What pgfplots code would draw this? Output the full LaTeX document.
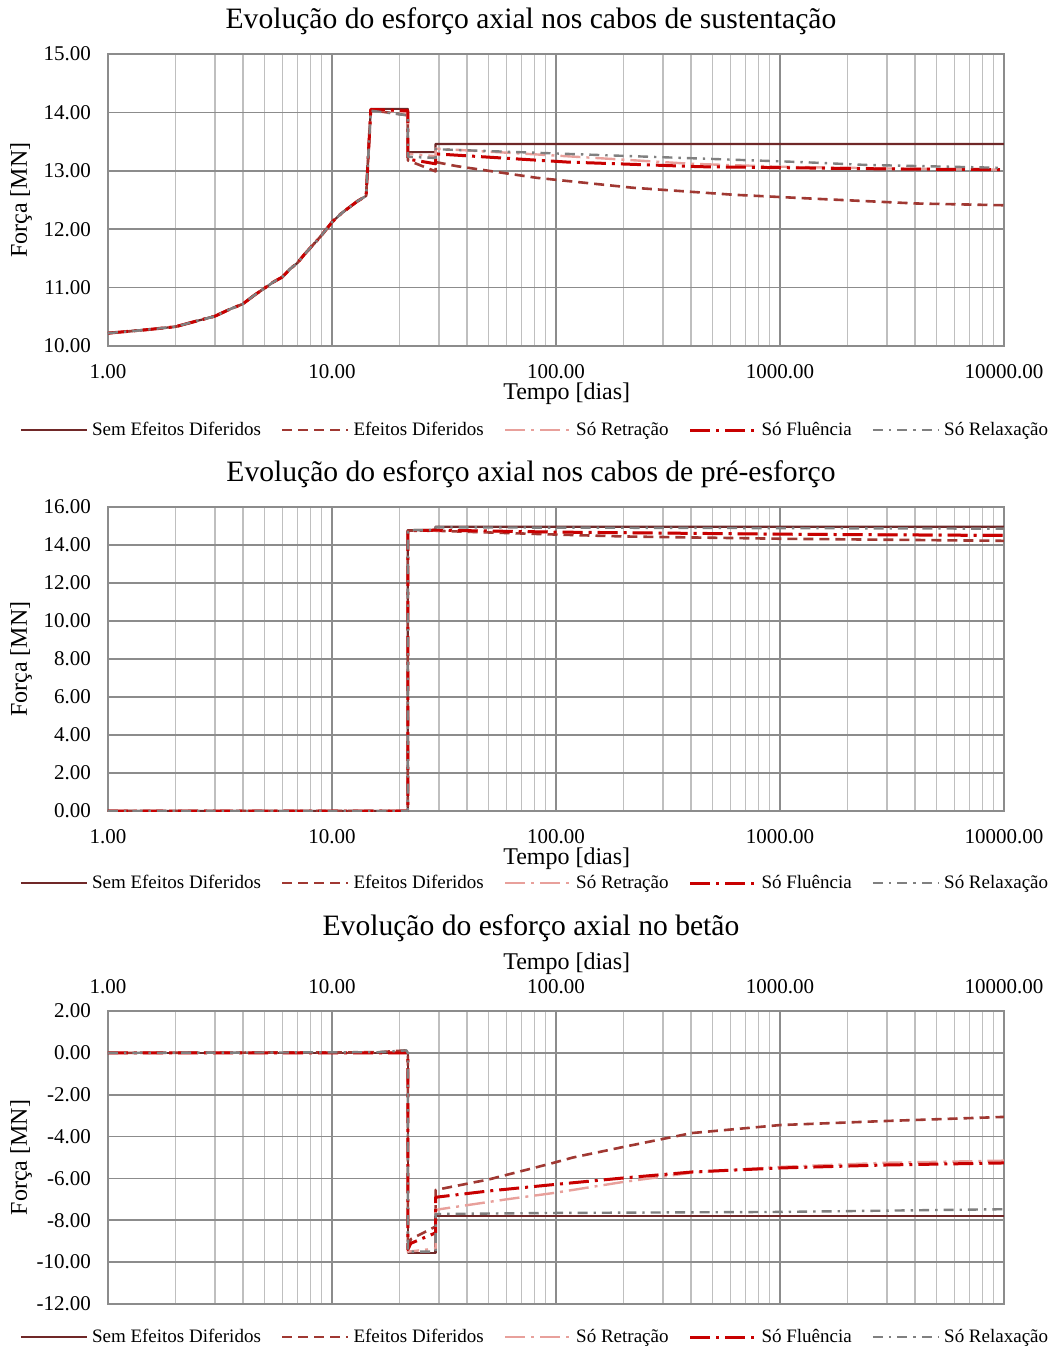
\documentclass[border=0pt]{standalone}
\usepackage{pgfplots}
\pgfplotsset{compat=1.18}
\usepackage{fontspec}
\setmainfont{Liberation Serif}
\definecolor{csem}{RGB}{112,40,40}
\definecolor{cefe}{RGB}{160,56,50}
\definecolor{cret}{RGB}{232,160,155}
\definecolor{cflu}{RGB}{200,0,0}
\definecolor{crel}{RGB}{128,128,128}
\tikzset{
  ssem/.style={draw=csem, line width=1.1pt, line join=round},
  sefe/.style={draw=cefe, line width=1.3pt, dash pattern=on 5pt off 3pt, line join=round},
  sret/.style={draw=cret, line width=1.2pt, dash pattern=on 10pt off 3pt on 1.5pt off 3pt, line join=round},
  sflu/.style={draw=cflu, line width=1.5pt, dash pattern=on 10pt off 3pt on 1.5pt off 3pt, line join=round},
  srel/.style={draw=crel, line width=1.2pt, dash pattern=on 5pt off 3pt on 1.2pt off 3pt, line join=round},
}
\pgfplotsset{
  every axis/.append style={
    scale only axis, width=448pt,
    grid=both,
    major grid style={draw=black!45, line width=0.9pt},
    minor grid style={draw=black!25, line width=0.75pt},
    axis line style={draw=black!45, line width=0.9pt},
    tick style={draw=none},
    tick label style={font=\fontsize{10.5}{12}\selectfont},
    legend columns=5,
    legend style={draw=none, fill=none, font=\fontsize{9.5}{11}\selectfont,
      /tikz/every even column/.append style={column sep=8pt}},
  },
}
\begin{document}
\begin{tikzpicture}
\useasboundingbox (0,0) rectangle (527.5pt,-674.5pt);
% ---------------- Top chart ----------------
\begin{axis}[at={(54pt,-27pt)}, anchor=north west, height=146pt,
  xmode=log, xmin=1, xmax=10000,
  xtick={1,10,100,1000,10000},
  xticklabels={1.00,10.00,100.00,1000.00,10000.00},
  minor xtick={2,3,4,5,6,7,8,9,20,30,40,50,60,70,80,90,200,300,400,500,600,700,800,900,2000,3000,4000,5000,6000,7000,8000,9000},
  ymin=10, ymax=15, ytick={10,11,12,13,14,15},
  yticklabel style={xshift=-5pt, /pgf/number format/fixed, /pgf/number format/fixed zerofill, /pgf/number format/precision=2, /pgf/number format/assume math mode=true},
  title={Evolução do esforço axial nos cabos de sustentação},
  title style={font=\fontsize{14.8}{17}\selectfont, at={(0.5,1)}, anchor=center, xshift=-12.5pt, yshift=10.5pt},
  ylabel={Força [MN]}, xlabel={Tempo [dias]},
  every axis y label/.style={at={(-0.0971,0.5)}, rotate=90, anchor=center, font=\fontsize{12}{14}\selectfont},
  every axis x label/.style={at={(0.512,0)}, anchor=center, yshift=-24pt, font=\fontsize{12}{14}\selectfont},
  xticklabel style={anchor=center, yshift=-13pt},
  legend image code/.code={\draw[#1] (0pt,0pt) -- (33pt,0pt);},
  legend style={at={(0.5,0)}, anchor=center, xshift=-10pt, yshift=-42pt}]
\addplot[ssem] coordinates {(1,10.22)(1.5,10.28)(2,10.33)(2.5,10.43)(3,10.51)(3.5,10.63)(4,10.72)(4.5,10.87)(5,10.99)(5.5,11.10)(6,11.18)(6.5,11.32)(7,11.42)(7.5,11.56)(8,11.68)(8.5,11.79)(9,11.90)(10,12.12)(11,12.27)(12,12.38)(13,12.48)(14.2,12.57)(14.9,14.06)(21.8,14.06)(21.8,13.32)(29,13.32)(29,13.46)(10000,13.46)};
\addplot[sefe] coordinates {(1,10.22)(1.5,10.28)(2,10.33)(2.5,10.43)(3,10.51)(3.5,10.63)(4,10.72)(4.5,10.87)(5,10.99)(5.5,11.10)(6,11.18)(6.5,11.32)(7,11.42)(7.5,11.56)(8,11.68)(8.5,11.79)(9,11.90)(10,12.12)(11,12.27)(12,12.38)(13,12.48)(14.2,12.57)(14.9,14.04)(21.8,13.95)(21.8,13.18)(29,12.99)(29,13.15)(36,13.08)(82,12.88)(220,12.71)(620,12.59)(1460,12.52)(4080,12.44)(10000,12.41)};
\addplot[sret] coordinates {(1,10.22)(1.5,10.28)(2,10.33)(2.5,10.43)(3,10.51)(3.5,10.63)(4,10.72)(4.5,10.87)(5,10.99)(5.5,11.10)(6,11.18)(6.5,11.32)(7,11.42)(7.5,11.56)(8,11.68)(8.5,11.79)(9,11.90)(10,12.12)(11,12.27)(12,12.38)(13,12.48)(14.2,12.57)(14.9,14.05)(21.8,14.0)(21.8,13.29)(29,13.25)(29,13.38)(67,13.30)(150,13.22)(400,13.12)(1000,13.07)(3000,13.04)(10000,13.02)};
\addplot[sflu] coordinates {(1,10.22)(1.5,10.28)(2,10.33)(2.5,10.43)(3,10.51)(3.5,10.63)(4,10.72)(4.5,10.87)(5,10.99)(5.5,11.10)(6,11.18)(6.5,11.32)(7,11.42)(7.5,11.56)(8,11.68)(8.5,11.79)(9,11.90)(10,12.12)(11,12.27)(12,12.38)(13,12.48)(14.2,12.57)(14.9,14.05)(21.8,14.03)(21.8,13.20)(29,13.12)(29,13.29)(112,13.15)(440,13.07)(3400,13.03)(10000,13.02)};
\addplot[srel] coordinates {(1,10.22)(1.5,10.28)(2,10.33)(2.5,10.43)(3,10.51)(3.5,10.63)(4,10.72)(4.5,10.87)(5,10.99)(5.5,11.10)(6,11.18)(6.5,11.32)(7,11.42)(7.5,11.56)(8,11.68)(8.5,11.79)(9,11.90)(10,12.12)(11,12.27)(12,12.38)(13,12.48)(14.2,12.57)(14.9,14.03)(21.8,13.95)(21.8,13.24)(29,13.22)(29,13.37)(157,13.27)(1230,13.15)(2450,13.10)(10000,13.05)};
\legend{Sem Efeitos Diferidos, Efeitos Diferidos, Só Retração, Só Fluência, Só Relaxação}
\end{axis}
% ---------------- Middle chart ----------------
\begin{axis}[at={(54pt,-253.5pt)}, anchor=north west, height=152pt,
  xmode=log, xmin=1, xmax=10000,
  xtick={1,10,100,1000,10000},
  xticklabels={1.00,10.00,100.00,1000.00,10000.00},
  minor xtick={2,3,4,5,6,7,8,9,20,30,40,50,60,70,80,90,200,300,400,500,600,700,800,900,2000,3000,4000,5000,6000,7000,8000,9000},
  ymin=0, ymax=16, ytick={0,2,4,6,8,10,12,14,16},
  yticklabel style={xshift=-5pt, /pgf/number format/fixed, /pgf/number format/fixed zerofill, /pgf/number format/precision=2, /pgf/number format/assume math mode=true},
  title={Evolução do esforço axial nos cabos de pré-esforço},
  title style={font=\fontsize{14.8}{17}\selectfont, at={(0.5,1)}, anchor=center, xshift=-12.5pt, yshift=10.5pt},
  ylabel={Força [MN]}, xlabel={Tempo [dias]},
  every axis y label/.style={at={(-0.0971,0.5)}, rotate=90, anchor=center, font=\fontsize{12}{14}\selectfont},
  every axis x label/.style={at={(0.512,0)}, anchor=center, yshift=-24pt, font=\fontsize{12}{14}\selectfont},
  xticklabel style={anchor=center, yshift=-13pt},
  legend image code/.code={\draw[#1] (0pt,0pt) -- (33pt,0pt);},
  legend style={at={(0.5,0)}, anchor=center, xshift=-10pt, yshift=-36pt}]
\addplot[ssem] coordinates {(1,0)(21.8,0)(21.8,14.78)(29,14.80)(29,14.96)(10000,14.96)};
\addplot[sefe] coordinates {(1,0)(21.8,0)(21.8,14.76)(29,14.75)(50,14.66)(100,14.55)(200,14.45)(1000,14.33)(10000,14.22)};
\addplot[sret] coordinates {(1,0)(21.8,0)(21.8,14.76)(29,14.76)(100,14.67)(1000,14.58)(10000,14.53)};
\addplot[sflu] coordinates {(1,0)(21.8,0)(21.8,14.75)(29,14.78)(100,14.68)(1000,14.57)(10000,14.50)};
\addplot[srel] coordinates {(1,0)(21.8,0)(21.8,14.78)(29,14.78)(29,14.93)(10000,14.86)};
\legend{Sem Efeitos Diferidos, Efeitos Diferidos, Só Retração, Só Fluência, Só Relaxação}
\end{axis}
% ---------------- Bottom chart ----------------
\begin{axis}[at={(54pt,-505.5pt)}, anchor=north west, height=146.5pt,
  xmode=log, xmin=1, xmax=10000,
  xtick={1,10,100,1000,10000},
  xticklabels={1.00,10.00,100.00,1000.00,10000.00},
  minor xtick={2,3,4,5,6,7,8,9,20,30,40,50,60,70,80,90,200,300,400,500,600,700,800,900,2000,3000,4000,5000,6000,7000,8000,9000},
  xticklabel pos=right,
  ymin=-12, ymax=2, ytick={-12,-10,-8,-6,-4,-2,0,2},
  yticklabel style={xshift=-5pt, /pgf/number format/fixed, /pgf/number format/fixed zerofill, /pgf/number format/precision=2, /pgf/number format/assume math mode=true},
  title={Evolução do esforço axial no betão},
  title style={font=\fontsize{14.8}{17}\selectfont, at={(0.5,1)}, anchor=center, xshift=-12.5pt, yshift=35.5pt},
  ylabel={Força [MN]}, xlabel={Tempo [dias]},
  every axis y label/.style={at={(-0.0971,0.5)}, rotate=90, anchor=center, font=\fontsize{12}{14}\selectfont},
  every axis x label/.style={at={(0.512,1)}, anchor=center, yshift=23.5pt, font=\fontsize{12}{14}\selectfont},
  xticklabel style={anchor=center, yshift=12pt},
  legend image code/.code={\draw[#1] (0pt,0pt) -- (33pt,0pt);},
  legend style={at={(0.5,0)}, anchor=center, xshift=-10pt, yshift=-16.5pt}]
\addplot[ssem] coordinates {(1,0)(21.8,0)(21.8,-9.56)(29,-9.56)(29,-7.79)(10000,-7.79)};
\addplot[sefe] coordinates {(1,0)(16,0.03)(21.5,0.12)(21.8,0)(21.8,-9.3)(22.5,-8.9)(29,-8.3)(29,-6.55)(50,-6.05)(94,-5.3)(119,-5.0)(199,-4.5)(405,-3.83)(1000,-3.45)(2884,-3.26)(10000,-3.06)};
\addplot[sret] coordinates {(1,0)(21.8,0)(21.8,-9.5)(29,-9.35)(29,-7.5)(60,-7.0)(97,-6.7)(199,-6.17)(407,-5.72)(1000,-5.45)(3000,-5.25)(10000,-5.15)};
\addplot[sflu] coordinates {(1,0)(21.8,0)(21.8,-9.4)(22.5,-9.1)(29,-8.6)(29,-6.9)(50,-6.6)(94,-6.31)(199,-5.98)(407,-5.69)(1000,-5.5)(2884,-5.36)(10000,-5.26)};
\addplot[srel] coordinates {(1,0)(16,0.03)(21.5,0.12)(21.8,0)(21.8,-9.5)(29,-9.5)(29,-7.7)(94,-7.65)(1000,-7.6)(10000,-7.47)};
\legend{Sem Efeitos Diferidos, Efeitos Diferidos, Só Retração, Só Fluência, Só Relaxação}
\end{axis}
\end{tikzpicture}
\end{document}
